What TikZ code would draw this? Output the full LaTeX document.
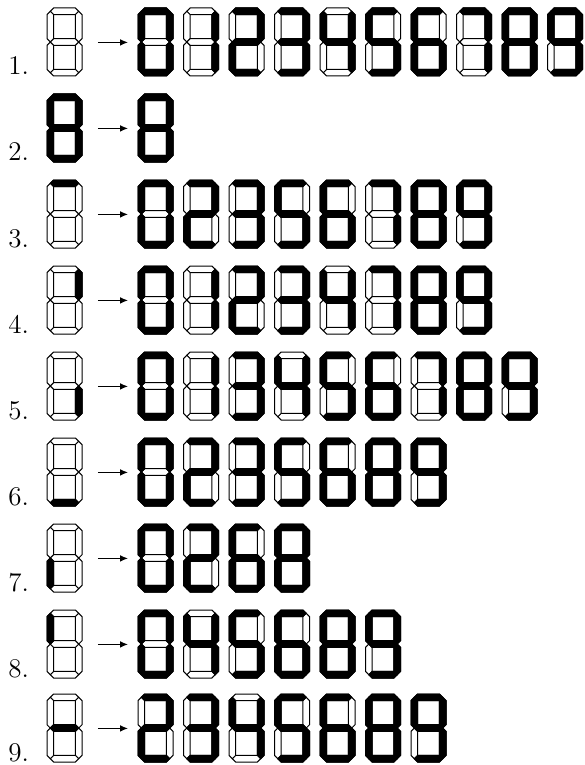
\documentclass[tikz,border=0pt]{standalone}
\usetikzlibrary{arrows.meta}

\tikzset{
	segoff/.style={ draw=black, fill=white, line width=0.5pt },
	segon/.style={ draw=black, fill=black, line width=0.5pt },
	digitbox/.style={ inner sep=0pt, minimum width=17.5pt, minimum height=34pt, anchor=north west },
	rowlabel/.style={ anchor=base west, inner sep=0pt, font=\fontsize{13.5}{16}\selectfont },
	maps/.style={ -{Latex[length=4pt,width=3.4pt]}, line width=0.6pt, shorten <=7.5pt, shorten >=5pt }
}

% the seven segments of one digit, 35 x 68 units
\newcommand{\sega}[1]{\draw[#1] (3.3,3.3) -- (6.6,0) -- (28.4,0) -- (31.7,3.3) -- (28.4,6.6) -- (6.6,6.6) -- cycle;}
\newcommand{\segb}[1]{\draw[#1] (31.7,3.3) -- (35,6.6) -- (35,30.7) -- (31.7,34) -- (28.4,30.7) -- (28.4,6.6) -- cycle;}
\newcommand{\segc}[1]{\draw[#1] (31.7,34) -- (35,37.3) -- (35,61.4) -- (31.7,64.7) -- (28.4,61.4) -- (28.4,37.3) -- cycle;}
\newcommand{\segd}[1]{\draw[#1] (3.3,64.7) -- (6.6,61.4) -- (28.4,61.4) -- (31.7,64.7) -- (28.4,68) -- (6.6,68) -- cycle;}
\newcommand{\sege}[1]{\draw[#1] (3.3,34) -- (6.6,37.3) -- (6.6,61.4) -- (3.3,64.7) -- (0,61.4) -- (0,37.3) -- cycle;}
\newcommand{\segf}[1]{\draw[#1] (3.3,3.3) -- (6.6,6.6) -- (6.6,30.7) -- (3.3,34) -- (0,30.7) -- (0,6.6) -- cycle;}
\newcommand{\segg}[1]{\draw[#1] (3.3,34) -- (6.6,30.7) -- (28.4,30.7) -- (31.7,34) -- (28.4,37.3) -- (6.6,37.3) -- cycle;}

% lit segments of the digits 0..9
\expandafter\def\csname dig0\endcsname{a,b,c,d,e,f}
\expandafter\def\csname dig1\endcsname{b,c}
\expandafter\def\csname dig2\endcsname{a,b,d,e,g}
\expandafter\def\csname dig3\endcsname{a,b,c,d,g}
\expandafter\def\csname dig4\endcsname{b,c,f,g}
\expandafter\def\csname dig5\endcsname{a,c,d,f,g}
\expandafter\def\csname dig6\endcsname{a,c,d,e,f,g}
\expandafter\def\csname dig7\endcsname{a,b,c}
\expandafter\def\csname dig8\endcsname{a,b,c,d,e,f,g}
\expandafter\def\csname dig9\endcsname{a,b,c,d,f,g}

% \ssdigit{name}{x}{y}{lit segments}
\newcommand{\ssdigit}[4]{%
	\node[digitbox] (#1) at (#2,#3) {};
	\begin{scope}[shift={(#2,#3)}]
		\foreach \s in {a,b,c,d,e,f,g} {\csname seg\s\endcsname{segoff}}
		\edef\litsegs{#4}%
		\ifx\litsegs\empty\else
			\foreach \s in \litsegs {\csname seg\s\endcsname{segon}}
		\fi
	\end{scope}}
% \numdigit{name}{x}{y}{digit}
\newcommand{\numdigit}[4]{\ssdigit{#1}{#2}{#3}{\csname dig#4\endcsname}}

\begin{document}
\begin{tikzpicture}[x=0.5pt, y=-0.5pt]
\useasboundingbox (0,0) rectangle (584,765);

% no segment
\begin{scope}[shift={(0,0)}]
	\node[rowlabel] (l1) at (8,75) {1.};
	\ssdigit{s1}{47}{8}{}
	\foreach \d [count=\k from 0] in {0,1,2,3,4,5,6,7,8,9} \numdigit{r1d\k}{138+45.5*\k}{8}{\d};
	\draw[maps] (s1) -- (r1d0);
\end{scope}

% all segments
\begin{scope}[shift={(0,86)}]
	\node[rowlabel] (l2) at (8,75) {2.};
	\ssdigit{s2}{47}{8}{a,b,c,d,e,f,g}
	\foreach \d [count=\k from 0] in {8} \numdigit{r2d\k}{138+45.5*\k}{8}{\d};
	\draw[maps] (s2) -- (r2d0);
\end{scope}

% segment a
\begin{scope}[shift={(0,172)}]
	\node[rowlabel] (l3) at (8,75) {3.};
	\ssdigit{s3}{47}{8}{a}
	\foreach \d [count=\k from 0] in {0,2,3,5,6,7,8,9} \numdigit{r3d\k}{138+45.5*\k}{8}{\d};
	\draw[maps] (s3) -- (r3d0);
\end{scope}

% segment b
\begin{scope}[shift={(0,258)}]
	\node[rowlabel] (l4) at (8,75) {4.};
	\ssdigit{s4}{47}{8}{b}
	\foreach \d [count=\k from 0] in {0,1,2,3,4,7,8,9} \numdigit{r4d\k}{138+45.5*\k}{8}{\d};
	\draw[maps] (s4) -- (r4d0);
\end{scope}

% segment c
\begin{scope}[shift={(0,344)}]
	\node[rowlabel] (l5) at (8,75) {5.};
	\ssdigit{s5}{47}{8}{c}
	\foreach \d [count=\k from 0] in {0,1,3,4,5,6,7,8,9} \numdigit{r5d\k}{138+45.5*\k}{8}{\d};
	\draw[maps] (s5) -- (r5d0);
\end{scope}

% segment d
\begin{scope}[shift={(0,430)}]
	\node[rowlabel] (l6) at (8,75) {6.};
	\ssdigit{s6}{47}{8}{d}
	\foreach \d [count=\k from 0] in {0,2,3,5,6,8,9} \numdigit{r6d\k}{138+45.5*\k}{8}{\d};
	\draw[maps] (s6) -- (r6d0);
\end{scope}

% segment e
\begin{scope}[shift={(0,516)}]
	\node[rowlabel] (l7) at (8,75) {7.};
	\ssdigit{s7}{47}{8}{e}
	\foreach \d [count=\k from 0] in {0,2,6,8} \numdigit{r7d\k}{138+45.5*\k}{8}{\d};
	\draw[maps] (s7) -- (r7d0);
\end{scope}

% segment f
\begin{scope}[shift={(0,602)}]
	\node[rowlabel] (l8) at (8,75) {8.};
	\ssdigit{s8}{47}{8}{f}
	\foreach \d [count=\k from 0] in {0,4,5,6,8,9} \numdigit{r8d\k}{138+45.5*\k}{8}{\d};
	\draw[maps] (s8) -- (r8d0);
\end{scope}

% segment g
\begin{scope}[shift={(0,686)}]
	\node[rowlabel] (l9) at (8,75) {9.};
	\ssdigit{s9}{47}{8}{g}
	\foreach \d [count=\k from 0] in {2,3,4,5,6,8,9} \numdigit{r9d\k}{138+45.5*\k}{8}{\d};
	\draw[maps] (s9) -- (r9d0);
\end{scope}

\end{tikzpicture}
\end{document}
